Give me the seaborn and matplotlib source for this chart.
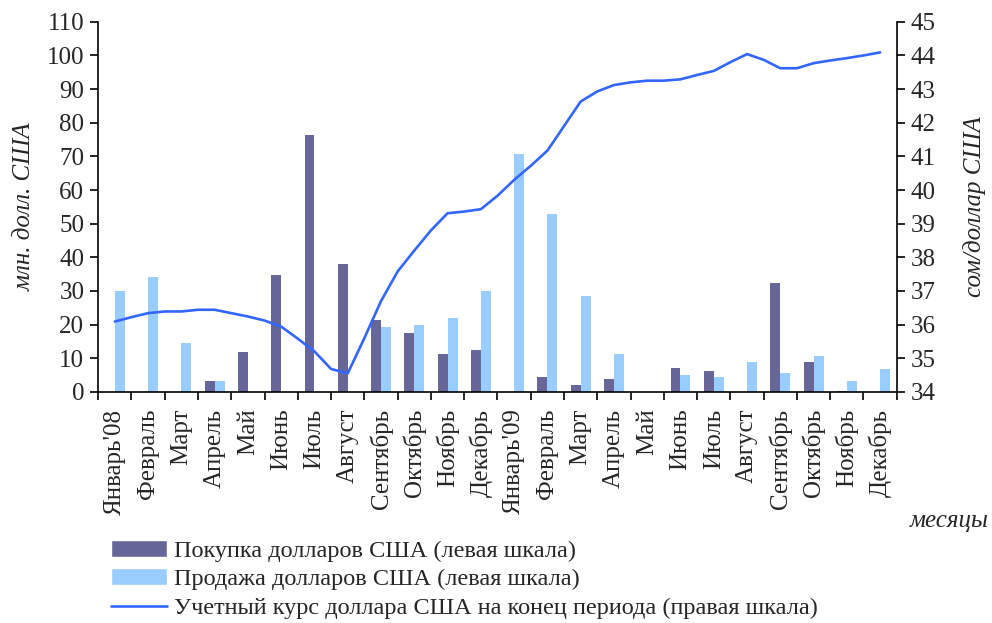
import matplotlib.pyplot as plt
import numpy as np
import pandas as pd
import seaborn as sns
from matplotlib.lines import Line2D
from matplotlib.patches import Patch

months = [
    "Январь'08", "Февраль", "Март", "Апрель", "Май", "Июнь", "Июль", "Август",
    "Сентябрь", "Октябрь", "Ноябрь", "Декабрь",
    "Январь'09", "Февраль", "Март", "Апрель", "Май", "Июнь", "Июль", "Август",
    "Сентябрь", "Октябрь", "Ноябрь", "Декабрь",
]
purchase = [0, 0, 0, 3.2, 11.9, 34.7, 76.3, 38.0, 21.3, 17.5, 11.2, 12.4,
            0, 4.4, 2.0, 3.8, 0, 7.0, 6.1, 0, 32.3, 8.8, 0.3, 0]
sale = [30.0, 34.1, 14.6, 3.2, 0, 0, 0, 0, 19.2, 19.8, 21.9, 29.9,
        70.7, 52.8, 28.4, 11.2, 0, 5.0, 4.4, 8.8, 5.5, 10.6, 3.2, 6.7]

# exchange rate, read at half-month steps (position in month index units)
rate_pos = [i / 2 for i in range(47)]
rate = [36.09, 36.22, 36.34, 36.39, 36.39, 36.44, 36.44, 36.34, 36.24, 36.12,
        35.94, 35.58, 35.20, 34.68, 34.55, 35.60, 36.70, 37.58, 38.20, 38.80,
        39.31, 39.36, 39.43, 39.83, 40.30, 40.72, 41.17, 41.90, 42.63, 42.93,
        43.12, 43.20, 43.25, 43.25, 43.29, 43.42, 43.54, 43.80, 44.04, 43.87,
        43.62, 43.62, 43.77, 43.85, 43.92, 44.00, 44.09]

lbl_buy = "Покупка долларов США (левая шкала)"
lbl_sell = "Продажа долларов США (левая шкала)"
lbl_rate = "Учетный курс доллара США на конец периода (правая шкала)"

c_buy = "#666699"
c_sell = "#99ccff"
c_rate = "#3366ff"

df = pd.DataFrame({
    "month": list(range(24)) * 2,
    "value": purchase + sale,
    "series": [lbl_buy] * 24 + [lbl_sell] * 24,
})

sns.set_style("ticks")
plt.rcParams["font.family"] = ["Liberation Serif", "DejaVu Serif"]
plt.rcParams["font.size"] = 18

fig, ax = plt.subplots(figsize=(9.92, 6.23), dpi=100)
fig.subplots_adjust(left=0.099, right=0.904, top=0.965, bottom=0.371)

sns.barplot(data=df, x="month", y="value", hue="series",
            palette=[c_buy, c_sell], width=0.6, saturation=1,
            linewidth=0, legend=False, ax=ax)
ax.set_xlim(-0.5, 23.5)
ax.set_ylim(0, 110)
ax.set_yticks(np.arange(0, 111, 10))
ax.set_xticks(range(24))
ax.set_xticklabels(months, rotation=90)
ax.set_xticks(np.arange(-0.5, 24, 1), minor=True)
ax.tick_params(axis="x", which="major", length=0, pad=12)
ax.tick_params(axis="x", which="minor", length=6, width=1.2, color="black")
ax.tick_params(axis="y", length=6, width=1.2, color="black", pad=4)
ax.set_xlabel("")
ax.set_ylabel("млн. долл. США", style="italic", labelpad=8)
for s in ["left", "bottom"]:
    ax.spines[s].set_linewidth(1.2)
    ax.spines[s].set_color("black")
ax.spines["top"].set_visible(False)
ax.spines["right"].set_visible(False)

ax2 = ax.twinx()
sns.lineplot(x=rate_pos, y=rate, color=c_rate, lw=1.9, ax=ax2)
ax2.set_ylim(34, 45)
ax2.set_yticks(np.arange(34, 46, 1))
ax2.tick_params(axis="y", length=6, width=1.2, color="black", pad=4)
ax2.set_ylabel("сом/доллар США", style="italic", rotation=90, labelpad=20)
ax2.spines["right"].set_linewidth(1.2)
ax2.spines["right"].set_color("black")
for s in ["top", "left", "bottom"]:
    ax2.spines[s].set_visible(False)

fig.text(0.997, 0.163, "месяцы", style="italic", ha="right", va="center")

handles = [
    Patch(facecolor=c_buy, label=lbl_buy),
    Patch(facecolor=c_sell, label=lbl_sell),
    Line2D([], [], color=c_rate, lw=1.9, label=lbl_rate),
]
fig.legend(handles=handles, loc="upper left", bbox_to_anchor=(0.112, 0.134),
           frameon=False, handlelength=2.3, handletextpad=0.3,
           labelspacing=0.28, borderaxespad=0, borderpad=0,
           fontsize=17.5)

fig.savefig("out.png", dpi=100)
